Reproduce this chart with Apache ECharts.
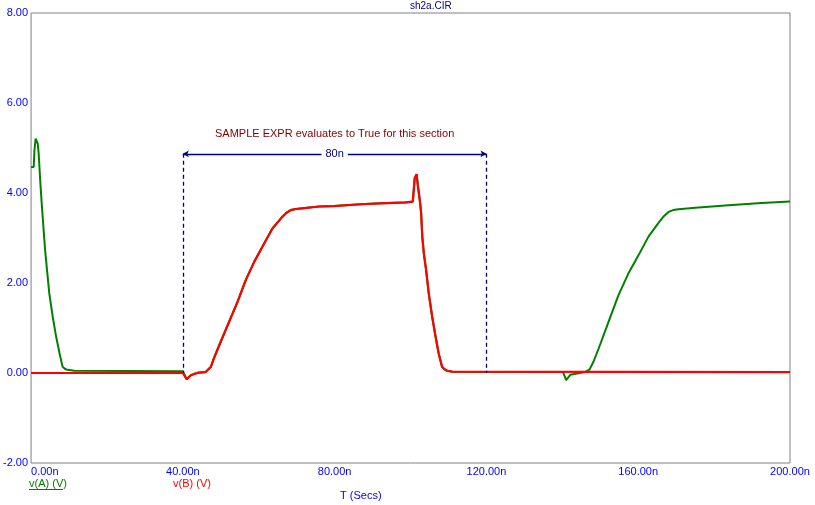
<!DOCTYPE html>
<html>
<head>
<meta charset="utf-8">
<script src="https://cdn.jsdelivr.net/npm/echarts@6/dist/echarts.min.js"></script>
<style>
html,body{margin:0;padding:0;background:#fff;}
#c{width:815px;height:505px;}
</style>
</head>
<body>
<div id="c"></div>
<script>
// ---- data (ns, volts) ----
var tA = [0,0.7,0.9,1.2,1.5,1.75,2.0,2.4,2.8,3.25,3.7,4.2,4.8,5.7,6.6,7.5,8.3,9.0,9.6,11.4,40,
  40.5,41,41.5,42.1,43,44.3,46,47.4,48.2,50,52.2,54.4,56.6,58.8,61,63.6,66.2,67.3,68.4,69.8,71.5,75.9,79.8,86.8,92.1,98.7,100.6,101.1,101.6,101.9,102.5,102.8,103.1,103.5,104.1,104.8,105.7,106.6,107.4,108.3,109.0,109.6,111,
  140.2,140.5,141,142.1,143.9,146,147.2,148.2,149.6,152.2,154.8,157.4,160.1,162.7,165.3,166.6,168,169.2,170.6,175.9,183.8,192.5,200];
var vA = [4.58,4.58,4.96,5.21,5.24,5.1,4.88,4.29,3.77,3.25,2.73,2.29,1.77,1.25,0.81,0.44,0.14,0.09,0.07,0.05,0.04,
  0.04,-0.14,-0.1,-0.05,-0.02,0.01,0.02,0.14,0.33,0.7,1.14,1.58,2.07,2.47,2.81,3.21,3.47,3.56,3.62,3.645,3.66,3.70,3.71,3.75,3.77,3.79,3.81,4.33,4.42,4.18,3.8,3.55,3.03,2.66,2.29,1.77,1.25,0.81,0.44,0.14,0.08,0.05,0.03,
  0.02,-0.02,-0.16,-0.04,-0.01,0.02,0.08,0.25,0.55,1.14,1.73,2.21,2.62,3.03,3.33,3.47,3.58,3.62,3.64,3.68,3.73,3.78,3.81];
var tB = [0,40,40.5,41,41.5,42.1,43,44.3,46,47.4,48.2,50,52.2,54.4,56.6,58.8,61,63.6,66.2,67.3,68.4,69.8,71.5,75.9,79.8,86.8,92.1,98.7,100.6,101.1,101.6,101.9,102.5,102.8,103.1,103.5,104.1,104.8,105.7,106.6,107.4,108.3,109.0,109.6,111,200];
var vB = [0,0,0,-0.14,-0.1,-0.05,-0.02,0.01,0.02,0.14,0.33,0.7,1.14,1.58,2.07,2.47,2.81,3.21,3.47,3.56,3.62,3.645,3.66,3.70,3.71,3.75,3.77,3.79,3.81,4.33,4.42,4.18,3.8,3.55,3.03,2.66,2.29,1.77,1.25,0.81,0.44,0.14,0.08,0.05,0.03,0.02];
var seriesNames = ['v(A) (V)', 'v(B) (V)'];
var titleText = 'sh2a.CIR';
var xAxisTitle = 'T (Secs)';
var noteText = 'SAMPLE EXPR evaluates to True for this section';
var noteAt = [80, 5.31];
var dimStart = 40, dimEnd = 120, dimLevel = 4.87, dimLabel = '80n';
var xTicks = {min: 0, max: 200, interval: 40};
var yTicks = {min: -2, max: 8, interval: 2};

function zip(t, v) { return t.map(function (x, i) { return [x, v[i]]; }); }

var FONT = '"Liberation Sans", Arial, sans-serif';
var chart = echarts.init(document.getElementById('c'), null, {renderer: 'canvas'});
chart.setOption({
  animation: false,
  backgroundColor: '#ffffff',
  grid: {left: 30, right: 25, top: 13, bottom: 42, show: true, borderColor: '#808080', borderWidth: 1, backgroundColor: 'transparent'},
  xAxis: {
    type: 'value', min: xTicks.min, max: xTicks.max, interval: xTicks.interval,
    axisLine: {show: false}, axisTick: {show: false}, splitLine: {show: false},
    axisLabel: {color: '#0000ff', fontFamily: FONT, fontSize: 11, margin: 3, alignMinLabel: 'left',
      formatter: function (v) { return v.toFixed(2) + 'n'; }}
  },
  yAxis: {
    type: 'value', min: yTicks.min, max: yTicks.max, interval: yTicks.interval,
    axisLine: {show: false}, axisTick: {show: false}, splitLine: {show: false},
    axisLabel: {color: '#0000ff', fontFamily: FONT, fontSize: 11, margin: 3,
      formatter: function (v) { return v.toFixed(2); }}
  },
  series: [
    {name: seriesNames[0], type: 'line', data: zip(tA, vA), showSymbol: false, symbol: 'none',
     lineStyle: {color: '#008000', width: 2}, z: 2},
    {name: seriesNames[1], type: 'line', data: zip(tB, vB), showSymbol: false, symbol: 'none',
     lineStyle: {color: '#ff0000', width: 2.2}, z: 3},
    {name: 'annot', type: 'line', data: [], z: 4,
     markLine: {
       silent: true, animation: false,
       symbol: ['none', 'none'],
       lineStyle: {color: '#000080', width: 1.3, type: [4, 3]},
       label: {show: false},
       data: [
         [{coord: [dimStart, dimLevel]}, {coord: [dimStart, 0]}],
         [{coord: [dimEnd, dimLevel]}, {coord: [dimEnd, 0]}],
         [{coord: [dimStart, dimLevel], symbol: 'arrow', symbolSize: [5, 6],
           lineStyle: {type: 'solid', width: 1.3, color: '#000080'}},
          {coord: [dimEnd, dimLevel], symbol: 'arrow', symbolSize: [5, 6]}]
       ]
     },
     markPoint: {
       silent: true, animation: false,
       data: [
         {coord: noteAt, symbol: 'rect', symbolSize: 1, itemStyle: {color: 'transparent'},
          label: {show: true, position: 'inside', formatter: noteText, color: '#800000', fontFamily: FONT, fontSize: 11}},
         {coord: [(dimStart + dimEnd) / 2, dimLevel], symbol: 'rect', symbolSize: 1, itemStyle: {color: 'transparent'},
          label: {show: true, position: 'inside', formatter: dimLabel, color: '#000080', fontFamily: FONT, fontSize: 11,
                  backgroundColor: '#ffffff', padding: [1, 4]}}
       ]
     }}
  ],
  graphic: [
    {type: 'text', left: 410, top: 1, style: {text: titleText, fill: '#000080', font: '10px ' + FONT, textAlign: 'center'}},
    {type: 'text', left: 29, top: 478, style: {text: seriesNames[0], fill: '#008000', font: '11px ' + FONT}},
    {type: 'line', shape: {x1: 29, y1: 489.5, x2: 63, y2: 489.5}, style: {stroke: '#008000', lineWidth: 1}},
    {type: 'text', left: 173, top: 478, style: {text: seriesNames[1], fill: '#ff0000', font: '11px ' + FONT}},
    {type: 'text', left: 340, top: 490, style: {text: xAxisTitle, fill: '#0000ff', font: '11px ' + FONT}}
  ]
});
</script>
</body>
</html>
